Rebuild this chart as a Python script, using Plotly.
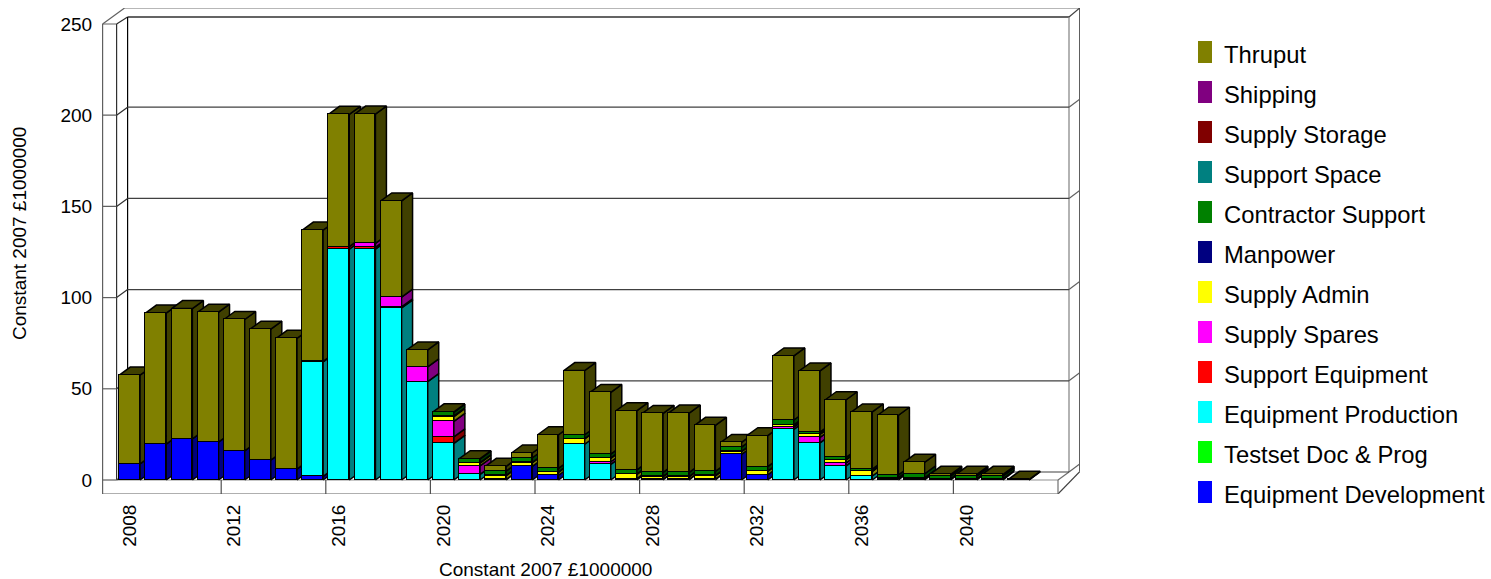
import plotly.graph_objects as go

years = list(range(2008, 2043))
N = None
equipment_development = [8.8,19.7,22.6,20.8,16,10.9,6,2,N,N,N,N,N,N,0.3,7.5,2.6,N,N,0.8,0.5,0.5,0.5,14,2.8,N,N,N,N,0.4,0.3,0.3,0.3,0.3,0.1]
testset_doc_prog = [N]*35
equipment_production = [N,N,N,N,N,N,N,62.7,126.5,126.5,94.3,53.9,20.1,3.1,N,N,N,19.6,8.6,N,N,N,N,N,N,27.8,20.3,7.7,2.2,N,N,N,N,N,N]
support_equipment = [N,N,N,N,N,N,N,0.3,1.4,1.0,0.6,N,3.5,N,N,N,N,N,N,N,N,N,N,N,N,N,N,N,N,N,N,N,N,N,N]
supply_spares = [N,N,N,N,N,N,N,N,N,2.2,5.4,8.1,8.6,4.6,N,N,N,N,1.4,N,N,N,N,N,N,1.2,3.1,1.7,N,N,N,N,N,N,N]
supply_admin = [N,N,N,N,N,N,N,N,N,N,N,N,2.5,1.5,2.1,2.0,1.6,2.9,1.9,2.3,1.3,1.3,1.8,1.5,1.9,1.0,1.6,1.6,2.5,0.7,0.7,0.5,0.5,0.5,N]
manpower = [N,N,N,N,N,N,N,N,N,N,N,N,0.4,0.3,0.2,0.2,0.2,0.2,0.2,0.2,0.2,0.2,0.2,0.2,0.2,0.2,0.2,0.2,0.2,0.2,0.2,N,N,N,N]
contractor_support = [N,N,N,N,N,N,N,N,N,N,N,N,2.0,2.0,2.3,2.5,2.0,2.1,2.1,2.2,2.2,2.2,2.2,2.3,2.4,2.7,1.1,1.2,1.1,1.5,2.1,1.5,1.5,1.5,N]
support_space = [N]*35
supply_storage = [N]*35
shipping = [N]*35
thruput = [48.7,71.8,71.4,71.2,72,71.8,71.7,72,72.6,70.9,52.7,9.3,0.3,0.2,2.6,2.6,18.4,35.2,33.8,32.5,32.3,32.5,25.3,2.6,17,35.1,33.5,31.6,31.3,32.7,6.4,0.8,0.8,0.8,0.3]

series = [
    ("Equipment Development", equipment_development, "#0000ff", "#000080"),
    ("Testset Doc & Prog", testset_doc_prog, "#00ff00", "#008000"),
    ("Equipment Production", equipment_production, "#00ffff", "#008080"),
    ("Support Equipment", support_equipment, "#ff0000", "#800000"),
    ("Supply Spares", supply_spares, "#ff00ff", "#800080"),
    ("Supply Admin", supply_admin, "#ffff00", "#808000"),
    ("Manpower", manpower, "#000080", "#000040"),
    ("Contractor Support", contractor_support, "#008000", "#004000"),
    ("Support Space", support_space, "#008080", "#004040"),
    ("Supply Storage", supply_storage, "#800000", "#400000"),
    ("Shipping", shipping, "#800080", "#400040"),
    ("Thruput", thruput, "#808000", "#404000"),
]
y_ticks = [0, 50, 100, 150, 200, 250]
x_ticks = [2008, 2012, 2016, 2020, 2024, 2028, 2032, 2036, 2040]
axis_title = "Constant 2007 £1000000"

W, H = 1491, 579
FONT = "Liberation Sans, Arial, sans-serif"
# pixel box of the whole axes
L, R, T, B = 102.0, 1079.7, 8.0, 494.0
PX_X = 26.15   # pixels per year
PX_Y = 1.824   # pixels per unit
X_FRONT = 116.6
Y_FRONT = 480.0
xr = [2007.5 - (X_FRONT - L) / PX_X, 2007.5 + (R - X_FRONT) / PX_X]
yr = [-(B - Y_FRONT) / PX_Y, (Y_FRONT - T) / PX_Y]
DX, DY = 11 / PX_X, 8 / PX_Y            # depth of one bar
OX, OY = 14 / PX_X, 14 / PX_Y           # outer frame offset
BW = 20.8 / PX_X
X0, X1 = 2007.5, 2043.5
YTOP = (Y_FRONT - 24) / PX_Y
LW = 1.5

fig = go.Figure()

# depth faces, drawn year by year from left to right
for i, yr_val in enumerate(years):
    base = 0.0
    lft, rgt = yr_val - BW / 2, yr_val + BW / 2
    last = None
    for name, vals, col, dark in series:
        v = vals[i]
        if not v:
            continue
        top = base + v
        fig.add_trace(go.Scatter(
            x=[rgt, rgt + DX, rgt + DX, rgt, rgt],
            y=[base, base + DY, top + DY, top, base],
            mode="lines", fill="toself", fillcolor=dark,
            line=dict(color="#000000", width=LW), showlegend=False, hoverinfo="skip"))
        base = top
        last = dark
    if last:
        fig.add_trace(go.Scatter(
            x=[lft, rgt, rgt + DX, lft + DX, lft],
            y=[base, base, base + DY, base + DY, base],
            mode="lines", fill="toself", fillcolor=last,
            line=dict(color="#000000", width=LW), showlegend=False, hoverinfo="skip"))

# front faces
for name, vals, col, dark in series:
    fig.add_trace(go.Bar(
        x=years, y=vals, name=name, width=BW, xaxis="x2", yaxis="y2",
        marker=dict(color=col, line=dict(color="#000000", width=LW)), showlegend=False))

# frame
shapes = []
def seg(x0, y0, x1, y1, color="#606060", width=1.2):
    shapes.append(dict(type="line", xref="x", yref="y", x0=x0, y0=y0, x1=x1, y1=y1,
                       layer="below", line=dict(color=color, width=width)))

xl = X0 - OX
yb = -OY
seg(xl, yb, xl, YTOP)
seg(xl, yb, X1, yb)
seg(xl, YTOP, X0, YTOP)
seg(xl, YTOP, xl + 2 * DX, yr[1])
seg(xl + 2 * DX, yr[1], xr[1], yr[1], "#707070")
seg(xr[1], yr[1], xr[1], 2 * DY - 4.2, "#000000")
seg(X1, yb, xr[1], 2 * DY - 4.2, "#404040")
seg(X0, YTOP, X0, 0, "#303030")
seg(X0, 0, X1, 0, "#909090")
seg(X1, 0, X1, yb, "#707070")
seg(X0, YTOP, X0 + DX, YTOP + 7 / PX_Y, "#303030")
seg(X0 + DX, YTOP + 7 / PX_Y, X1 + DX, YTOP + 7 / PX_Y, "#303030", 1.6)
seg(X0 + DX, YTOP + 7 / PX_Y, X0 + DX, DY, "#000000")
seg(X1 + DX, YTOP + 7 / PX_Y, X1 + DX, DY, "#808080")
seg(X1, 0, X1 + DX, DY, "#707070")
seg(X1 + DX, YTOP + 7 / PX_Y, xr[1], yr[1], "#404040")
for t in y_ticks[:-1]:
    seg(xl, t, X0, t)
    seg(X0, t, X0 + DX, t + DY, "#303030")
    seg(X0 + DX, t + DY, X1 + DX, t + DY, "#404040")
    seg(X1 + DX, t + DY, xr[1], t + 2 * DY, "#606060")
for t in x_ticks[1:]:
    seg(t - 0.5, 0, t - 0.5, yb, "#505050")

# legend
ann = []
for k, (name, vals, col, dark) in enumerate(reversed(series)):
    yc = 55 + 40 * k
    shapes.append(dict(type="rect", xref="paper", yref="paper",
                       x0=1198 / W, x1=1212 / W, y0=1 - (yc - 14) / H, y1=1 - (yc + 8) / H,
                       fillcolor=col, line=dict(width=0)))
    ann.append(dict(text=name, xref="paper", yref="paper", x=1222 / W, y=1 - (yc - 0.6) / H,
                    xanchor="left", yanchor="middle", showarrow=False,
                    font=dict(family=FONT, size=23.8, color="#000000")))
ann.append(dict(text=axis_title, xref="paper", yref="paper", x=545.5 / W, y=1 - 569 / H,
                xanchor="center", yanchor="middle", showarrow=False,
                font=dict(family=FONT, size=19, color="#000000")))
ann.append(dict(text=axis_title, xref="paper", yref="paper", x=19 / W, y=1 - 234 / H,
                xanchor="center", yanchor="middle", showarrow=False, textangle=-90,
                font=dict(family=FONT, size=19, color="#000000")))

dom_x = [L / W, R / W]
dom_y = [1 - B / H, 1 - T / H]
tf = dict(family=FONT, size=19, color="#000000")
fig.update_layout(
    width=W, height=H, margin=dict(l=0, r=0, t=0, b=0), autosize=False,
    paper_bgcolor="#ffffff", plot_bgcolor="rgba(0,0,0,0)", barmode="stack", bargap=0,
    showlegend=False, shapes=shapes, annotations=ann,
    xaxis=dict(domain=dom_x, range=xr, tickmode="array", tickvals=x_ticks,
               ticktext=[str(t) for t in x_ticks], tickangle=-90, tickfont=tf,
               showgrid=False, zeroline=False, showline=False,
               ticks="outside", ticklen=2, tickcolor="rgba(0,0,0,0)"),
    yaxis=dict(domain=dom_y, range=yr, tickmode="array", tickvals=y_ticks,
               ticktext=[str(t) for t in y_ticks], tickfont=tf,
               showgrid=False, zeroline=False, showline=False,
               ticks="outside", ticklen=5, tickcolor="rgba(0,0,0,0)"),
    xaxis2=dict(domain=dom_x, range=xr, overlaying="x", visible=False),
    yaxis2=dict(domain=dom_y, range=yr, overlaying="y", visible=False),
)
fig.write_html("out.html", post_script="document.body.style.margin='0';",
               config=dict(displayModeBar=False))
